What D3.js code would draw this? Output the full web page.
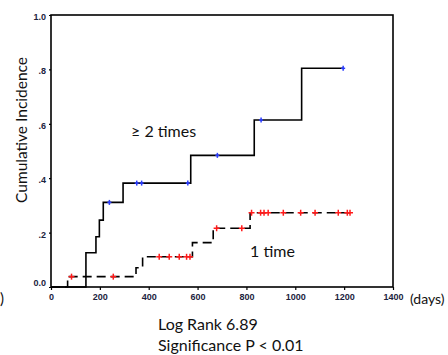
<!DOCTYPE html>
<html>
<head>
<meta charset="utf-8">
<script src="https://cdn.jsdelivr.net/npm/d3@7"></script>
<style>
  body { margin: 0; background: #fff; }
  svg { display: block; }
</style>
</head>
<body>
<div id="chart"></div>
<script>
// ">= 2 times" group: step days and cumulative incidence after each step
let multiDays = [0, 143, 184, 198, 214, 295, 572, 832, 1026, 1196];
let multiInc = [0, 0.126, 0.185, 0.246, 0.311, 0.382, 0.484, 0.614, 0.804, 0.804];
let multiCensor = [239, 351, 371, 560, 681, 860, 1196];

// "1 time" group
let onceDays = [0, 68, 348, 375, 579, 664, 815, 1226];
let onceInc = [0, 0.038, 0.071, 0.111, 0.163, 0.216, 0.273, 0.273];
let onceCensor = [84, 255, 443, 484, 525, 555, 569, 678, 781, 821, 858, 872, 889, 951, 1022, 1081, 1176, 1213, 1224];

let xTicks = [0, 200, 400, 600, 800, 1000, 1200, 1400];
let yTicks = [0, 0.2, 0.4, 0.6, 0.8, 1.0];
let yTickLabels = ["0.0", ".2", ".4", ".6", ".8", "1.0"];

let width = 448, height = 355;

let svg = d3.select("#chart").append("svg")
  .attr("width", width)
  .attr("height", height);

let x = d3.scaleLinear().domain([0, 1400]).range([51, 393]);
let y = d3.scaleLinear().domain([0, 1]).range([287, 15]);

// axes (ticks + labels only, the frame is drawn after)
let xAxis = svg.append("g")
  .attr("transform", "translate(0," + y(0) + ")")
  .call(d3.axisBottom(x).tickValues(xTicks).tickSize(3).tickPadding(4).tickFormat(d3.format("d")));
xAxis.select(".domain").remove();
xAxis.selectAll("text")
  .attr("font-family", "Liberation Sans, Arial, sans-serif")
  .attr("font-size", 9).attr("font-weight", "bold").attr("fill", "#1c2340");
xAxis.selectAll("line").attr("stroke", "#000").attr("stroke-width", 1.2);

let yAxis = svg.append("g")
  .attr("transform", "translate(" + x(0) + ",0)")
  .call(d3.axisLeft(y).tickValues(yTicks).tickSize(2).tickPadding(3).tickFormat((d, i) => yTickLabels[i]));
yAxis.select(".domain").remove();
yAxis.selectAll("text")
  .attr("font-family", "Liberation Sans, Arial, sans-serif")
  .attr("font-size", 9).attr("font-weight", "bold").attr("fill", "#1c2340")
  .attr("dy", (d) => d === 0 ? "-0.2em" : "0.5em");
yAxis.selectAll("line").attr("stroke", "#000").attr("stroke-width", 1.2);

// box around plot
svg.append("rect")
  .attr("x", x(0)).attr("y", y(1))
  .attr("width", x(1400) - x(0)).attr("height", y(0) - y(1))
  .attr("fill", "none").attr("stroke", "#000").attr("stroke-width", 1.6);

let step = d3.line()
  .x(d => x(d[0]))
  .y(d => y(d[1]))
  .curve(d3.curveStepAfter);

// level of the curve at day t
function levelAt(days, inc, t) {
  let i = d3.bisectRight(days, t) - 1;
  return inc[Math.max(0, i)];
}

svg.append("path")
  .attr("d", step(d3.zip(onceDays, onceInc)))
  .attr("fill", "none").attr("stroke", "#000").attr("stroke-width", 1.6)
  .attr("stroke-dasharray", "9,5");

svg.append("path")
  .attr("d", step(d3.zip(multiDays, multiInc)))
  .attr("fill", "none").attr("stroke", "#000").attr("stroke-width", 1.6);

// censor marks
let onceMarks = svg.append("g").attr("stroke", "#ff1a1a").attr("stroke-width", 1.5);
onceCensor.forEach(t => {
  let cx = x(t), cy = y(levelAt(onceDays, onceInc, t));
  onceMarks.append("line").attr("x1", cx).attr("x2", cx).attr("y1", cy - 3).attr("y2", cy + 3);
  onceMarks.append("line").attr("x1", cx - 3).attr("x2", cx + 3).attr("y1", cy).attr("y2", cy);
});

let multiMarks = svg.append("g").attr("stroke", "#2a3cff").attr("stroke-width", 1.5);
multiCensor.forEach(t => {
  let cx = x(t), cy = y(levelAt(multiDays, multiInc, t));
  multiMarks.append("line").attr("x1", cx).attr("x2", cx).attr("y1", cy - 2.5).attr("y2", cy + 2.5);
  multiMarks.append("line").attr("x1", cx - 2).attr("x2", cx + 2).attr("y1", cy).attr("y2", cy);
});

// texts
let font = "Lato, 'Open Sans', sans-serif";

svg.append("text")
  .attr("transform", "translate(27,130) rotate(-90)")
  .attr("text-anchor", "middle")
  .attr("font-family", font).attr("font-size", 15.5).attr("fill", "#111")
  .text("Cumulative Incidence");

svg.append("text")
  .attr("x", 131).attr("y", 137)
  .attr("font-family", font).attr("font-size", 16).attr("fill", "#111")
  .text("≥ 2 times");

svg.append("text")
  .attr("x", 250).attr("y", 257)
  .attr("font-family", font).attr("font-size", 16).attr("fill", "#111")
  .text("1 time");

svg.append("text")
  .attr("x", 410).attr("y", 304)
  .attr("font-family", font).attr("font-size", 14).attr("fill", "#111")
  .text("(days)");

svg.append("text")
  .attr("x", 0).attr("y", 304)
  .attr("font-family", font).attr("font-size", 15).attr("fill", "#111")
  .text(")");

svg.append("text")
  .attr("x", 158).attr("y", 330)
  .attr("font-family", font).attr("font-size", 16).attr("fill", "#111")
  .text("Log Rank 6.89");

svg.append("text")
  .attr("x", 158).attr("y", 351)
  .attr("font-family", font).attr("font-size", 16).attr("fill", "#111")
  .text("Significance P < 0.01");
</script>
</body>
</html>
